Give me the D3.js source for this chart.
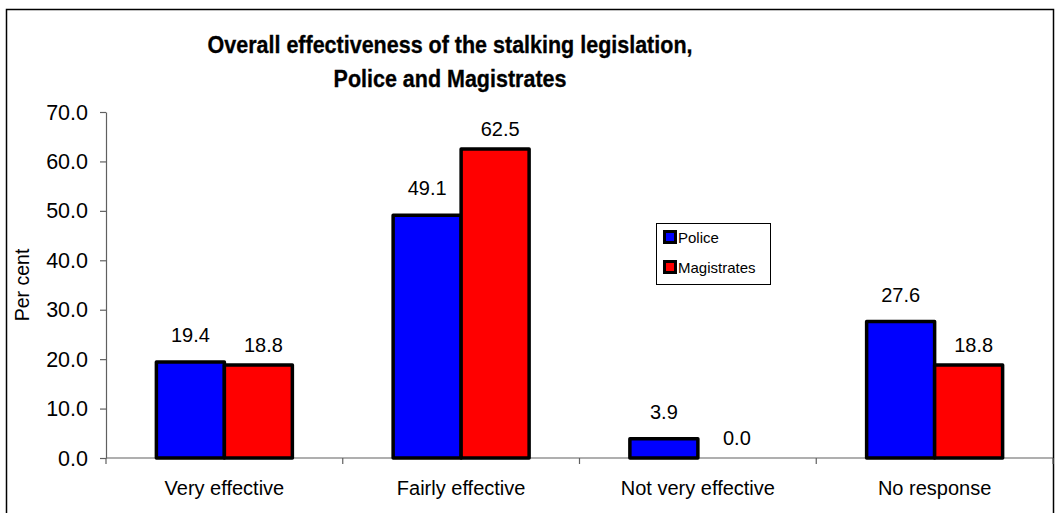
<!DOCTYPE html>
<html>
<head>
<meta charset="utf-8">
<script src="https://cdn.jsdelivr.net/npm/d3@7"></script>
<style>
  html, body { margin: 0; padding: 0; background: #fff; }
  svg { display: block; font-family: "Liberation Sans", Arial, sans-serif; }
</style>
</head>
<body>
<svg id="chart" width="1057" height="513"></svg>
<script>
const categories = ["Very effective", "Fairly effective", "Not very effective", "No response"];
const seriesNames = ["Police", "Magistrates"];
const police = [19.4, 49.1, 3.9, 27.6];
const magistrates = [18.8, 62.5, 0.0, 18.8];
const yTicks = [0, 10, 20, 30, 40, 50, 60, 70];
const titleLines = ["Overall effectiveness of the stalking legislation,", "Police and Magistrates"];
const yAxisTitle = "Per cent";

const colors = { "Police": "#0000FF", "Magistrates": "#FF0000" };
const seriesValues = { "Police": police, "Magistrates": magistrates };

const svg = d3.select("#chart");

// outer chart border
svg.append("rect")
  .attr("x", 6.5).attr("y", 9.5)
  .attr("width", 1047).attr("height", 520)
  .attr("fill", "#fff").attr("stroke", "#000").attr("stroke-width", 1.5);

const plot = { left: 106, right: 1053, top: 112, bottom: 458 };

const y = d3.scaleLinear().domain([0, 70]).range([plot.bottom, plot.top]);
const x0 = d3.scaleBand().domain(categories).range([plot.left, plot.right]).padding(0);
const gap = x0.bandwidth() * 0.2128;
const x1 = d3.scaleBand().domain(seriesNames).range([gap, x0.bandwidth() - gap]).padding(0);

// title (slightly taller glyphs, like the original rendering)
titleLines.forEach((t, i) => {
  const baseY = 53 + i * 34;
  svg.append("text")
    .attr("transform", `translate(450,${baseY}) scale(1,1.1)`)
    .attr("text-anchor", "middle")
    .attr("font-weight", "bold")
    .attr("font-size", 21.5)
    .attr("fill", "#000")
    .attr("stroke", "#000")
    .attr("stroke-width", 0.3)
    .text(t);
});

// y axis
const yAxis = d3.axisLeft(y).tickValues(yTicks).tickFormat(d3.format(".1f")).tickSize(6).tickSizeOuter(0).tickPadding(12);
const gy = svg.append("g").attr("transform", `translate(${plot.left},0)`).call(yAxis);
gy.select(".domain").attr("stroke", "#606060").attr("stroke-width", 1.2);
gy.selectAll(".tick line").attr("stroke", "#606060").attr("stroke-width", 1.2);
gy.selectAll(".tick text").attr("font-size", 21.5).attr("fill", "#000")
  .attr("font-family", "Liberation Sans, Arial, sans-serif").attr("dy", "0.33em");

// y axis title
svg.append("text")
  .attr("transform", "translate(29,285) rotate(-90)")
  .attr("text-anchor", "middle")
  .attr("font-size", 19.5)
  .attr("fill", "#000")
  .text(yAxisTitle);

// x axis
const gx = svg.append("g").attr("transform", `translate(0,${plot.bottom})`);
gx.append("line")
  .attr("x1", plot.left).attr("x2", plot.right)
  .attr("stroke", "#606060").attr("stroke-width", 1.2);
const boundaries = categories.map(c => x0(c)).concat([x0(categories[categories.length - 1]) + x0.bandwidth()]);
gx.selectAll(".btick").data(boundaries).join("line")
  .attr("class", "btick")
  .attr("x1", d => d).attr("x2", d => d)
  .attr("y1", 0).attr("y2", 6)
  .attr("stroke", "#606060").attr("stroke-width", 1.2);
gx.selectAll(".clabel").data(categories).join("text")
  .attr("class", "clabel")
  .attr("x", d => x0(d) + x0.bandwidth() / 2)
  .attr("y", 37)
  .attr("text-anchor", "middle")
  .attr("font-size", 20)
  .attr("fill", "#000")
  .text(d => d);

// bars
const flat = [];
categories.forEach((c, i) => {
  seriesNames.forEach(s => flat.push({ cat: c, series: s, value: seriesValues[s][i] }));
});

svg.append("g").selectAll("rect").data(flat.filter(d => d.value > 0)).join("rect")
  .attr("x", d => x0(d.cat) + x1(d.series))
  .attr("y", d => y(d.value))
  .attr("width", x1.bandwidth())
  .attr("height", d => y(0) - y(d.value))
  .attr("fill", d => colors[d.series])
  .attr("stroke", "#000")
  .attr("stroke-width", 3.5)
  .attr("stroke-linejoin", "round");

// value labels
const labelLift = { "Police": 20, "Magistrates": 13 };
const labelShift = { "Police": 0, "Magistrates": 5 };
svg.append("g").selectAll("text").data(flat).join("text")
  .attr("x", d => x0(d.cat) + x1(d.series) + x1.bandwidth() / 2 + labelShift[d.series])
  .attr("y", d => y(d.value) - labelLift[d.series])
  .attr("text-anchor", "middle")
  .attr("font-size", 20)
  .attr("fill", "#000")
  .text(d => d3.format(".1f")(d.value));

// legend
const lg = svg.append("g").attr("transform", "translate(656,223)");
lg.append("rect").attr("x", 0.5).attr("y", 0.5).attr("width", 114).attr("height", 61)
  .attr("fill", "#fff").attr("stroke", "#000").attr("stroke-width", 1);
seriesNames.forEach((s, i) => {
  const gy0 = 8 + i * 30;
  lg.append("rect").attr("x", 8.5).attr("y", gy0 + 0.5).attr("width", 11).attr("height", 11)
    .attr("fill", colors[s]).attr("stroke", "#000").attr("stroke-width", 3);
  lg.append("text").attr("x", 22).attr("y", gy0 + 12)
    .attr("font-size", 15).attr("fill", "#000").text(s);
});
</script>
</body>
</html>
